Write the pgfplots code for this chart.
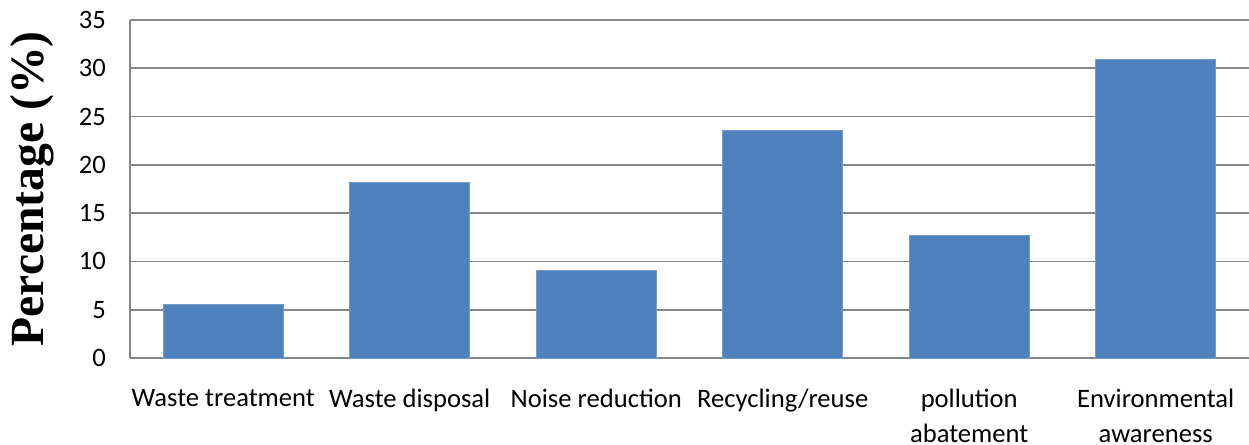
\documentclass[border=0pt]{standalone}
\usepackage{pgfplots}
\pgfplotsset{compat=1.18}
\usepackage{fontspec}
\setmainfont{Carlito}
\newfontfamily\tnr{Liberation Serif}
\definecolor{barblue}{HTML}{4F81BD}
\definecolor{gridgray}{HTML}{868686}
\begin{document}
\begin{tikzpicture}
\begin{axis}[
  name=ax,
  scale only axis,
  width=559.5pt, height=169pt,
  xmin=-0.5, xmax=5.5,
  ymin=0, ymax=35,
  ytick={0,5,...,35},
  xtick={0,1,2,3,4,5},
  xticklabels={Waste treatment, Waste disposal, Noise reduction, Recycling/reuse, pollution\\abatement, Environmental\\awareness},
  xticklabel style={align=center, anchor=north, yshift=-12pt, font=\fontsize{13.3}{17.5}\selectfont},
  yticklabel style={font=\fontsize{13.3}{15}\selectfont, xshift=-8.5pt},
  /pgf/number format/assume math mode=true,
  axis x line*=bottom,
  axis y line*=left,
  axis line style={gridgray, line width=0.9pt},
  x axis line style={-},
  y axis line style={-},
  major tick length=0pt,
  ymajorgrids,
  grid style={gridgray, line width=0.9pt},
  ylabel={\tnr\bfseries Percentage (\%)},
  every axis y label/.style={at={(axis description cs:0,0.5)}, rotate=90, anchor=center, yshift=49pt, font=\fontsize{23.8}{28}\selectfont},
  clip=false,
]
\addplot[ybar, bar width=60pt, fill=barblue, draw=barblue!80!white, line width=0.4pt] coordinates {
  (0,5.5) (1,18.2) (2,9.1) (3,23.6) (4,12.7) (5,30.9)
};
\end{axis}
\pgfresetboundingbox
\path[use as bounding box] ([xshift=-65pt,yshift=-43pt]ax.south west) rectangle ([yshift=10pt]ax.north east);
\end{tikzpicture}
\end{document}
